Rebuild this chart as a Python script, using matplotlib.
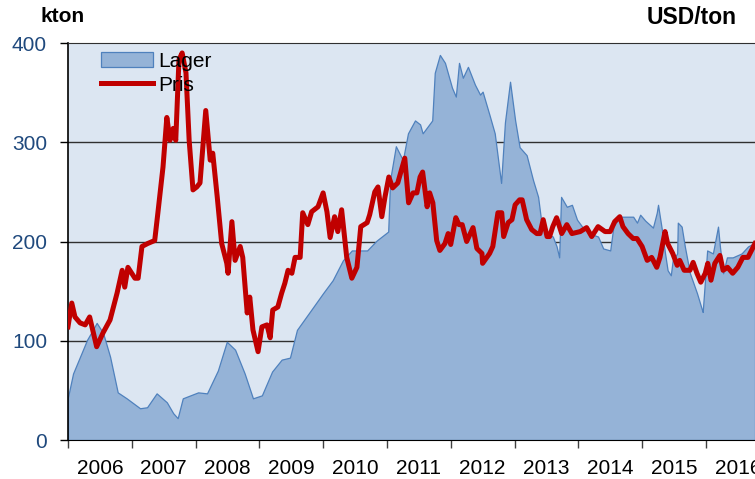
import matplotlib
matplotlib.use("Agg")
import matplotlib.pyplot as plt
import numpy as np

plt.rcParams['font.family'] = ['Liberation Sans', 'DejaVu Sans']

# Lager (kton)
lager_year = [2006.00, 2006.08, 2006.19, 2006.30, 2006.39, 2006.45, 2006.55, 2006.66, 2006.78, 2006.92,
              2007.13, 2007.24, 2007.39, 2007.55, 2007.65, 2007.72, 2007.80, 2008.04, 2008.18, 2008.35,
              2008.49, 2008.62, 2008.77, 2008.90, 2009.04, 2009.20, 2009.35, 2009.48, 2009.59, 2009.79,
              2010.00, 2010.15, 2010.31, 2010.45, 2010.69, 2010.84, 2011.02, 2011.05, 2011.14, 2011.25,
              2011.33, 2011.44, 2011.52, 2011.56, 2011.71, 2011.75, 2011.83, 2011.91, 2012.02, 2012.08,
              2012.13, 2012.19, 2012.27, 2012.38, 2012.46, 2012.50, 2012.61, 2012.69, 2012.79, 2012.85,
              2012.93, 2013.01, 2013.08, 2013.19, 2013.29, 2013.37, 2013.43, 2013.52, 2013.60, 2013.66,
              2013.70, 2013.73, 2013.82, 2013.90, 2013.98, 2014.06, 2014.18, 2014.31, 2014.39, 2014.50,
              2014.55, 2014.65, 2014.86, 2014.92, 2014.97, 2015.05, 2015.17, 2015.23, 2015.25, 2015.31,
              2015.36, 2015.40, 2015.45, 2015.48, 2015.55, 2015.56, 2015.62, 2015.67, 2015.75, 2015.86,
              2015.94, 2015.95, 2016.02, 2016.11, 2016.19, 2016.22, 2016.27, 2016.33, 2016.42, 2016.56,
              2016.66, 2016.77]
lager = [43, 67, 84, 101, 111, 118, 108, 84, 48, 42,
         32, 33, 47, 38, 27, 22, 42, 48, 47, 70,
         99, 91, 67, 42, 45, 69, 81, 83, 111, 129,
         148, 161, 181, 191, 191, 201, 210, 262, 296, 282,
         309, 322, 318, 309, 322, 370, 388, 380, 355, 346,
         380, 365, 376, 358, 348, 351, 327, 309, 259, 320,
         361, 322, 295, 287, 262, 245, 215, 208, 205, 195,
         184, 245, 235, 237, 222, 215, 208, 205, 193, 191,
         215, 225, 225, 219, 227, 221, 214, 229, 237, 212,
         188, 171, 166, 181, 188, 219, 215, 195, 168, 148,
         131, 129, 191, 188, 215, 195, 168, 184, 184, 188,
         195, 199]

pris_year = [2006.00, 2006.06, 2006.11, 2006.19, 2006.27, 2006.34, 2006.45, 2006.55, 2006.66, 2006.77,
             2006.85, 2006.89, 2006.94, 2007.05, 2007.10, 2007.16, 2007.25, 2007.36, 2007.41, 2007.49,
             2007.55, 2007.60, 2007.65, 2007.69, 2007.74, 2007.79, 2007.85, 2007.90, 2007.96, 2008.02,
             2008.07, 2008.16, 2008.23, 2008.27, 2008.34, 2008.41, 2008.49, 2008.51, 2008.57, 2008.62,
             2008.70, 2008.74, 2008.81, 2008.85, 2008.90, 2008.98, 2009.04, 2009.12, 2009.17, 2009.21,
             2009.29, 2009.35, 2009.40, 2009.45, 2009.51, 2009.56, 2009.64, 2009.68, 2009.76, 2009.82,
             2009.92, 2010.00, 2010.06, 2010.11, 2010.18, 2010.23, 2010.29, 2010.37, 2010.45, 2010.53,
             2010.59, 2010.69, 2010.73, 2010.81, 2010.86, 2010.92, 2010.97, 2011.03, 2011.09, 2011.17,
             2011.28, 2011.34, 2011.41, 2011.47, 2011.52, 2011.56, 2011.63, 2011.67, 2011.72, 2011.78,
             2011.83, 2011.91, 2011.96, 2012.00, 2012.08, 2012.13, 2012.18, 2012.25, 2012.35, 2012.41,
             2012.49, 2012.50, 2012.61, 2012.66, 2012.74, 2012.80, 2012.83, 2012.90, 2012.96, 2013.01,
             2013.08, 2013.12, 2013.19, 2013.27, 2013.35, 2013.40, 2013.45, 2013.51, 2013.55, 2013.60,
             2013.66, 2013.74, 2013.82, 2013.90, 2014.03, 2014.13, 2014.21, 2014.31, 2014.42, 2014.50,
             2014.57, 2014.65, 2014.70, 2014.78, 2014.86, 2014.92, 2014.97, 2015.00, 2015.08, 2015.15,
             2015.23, 2015.28, 2015.36, 2015.40, 2015.48, 2015.55, 2015.59, 2015.66, 2015.75, 2015.80,
             2015.86, 2015.92, 2015.99, 2016.03, 2016.08, 2016.14, 2016.22, 2016.27, 2016.34, 2016.42,
             2016.50, 2016.58, 2016.66, 2016.77]
pris = [114, 138, 124, 118, 116, 124, 94, 108, 121, 148,
        171, 154, 174, 163, 163, 195, 198, 201, 229, 275,
        325, 302, 314, 302, 383, 390, 370, 302, 252, 255,
        259, 332, 282, 289, 245, 198, 178, 168, 220, 181,
        195, 184, 128, 144, 111, 89, 114, 116, 103, 131,
        134, 148, 158, 171, 168, 184, 184, 229, 217, 230,
        235, 249, 230, 204, 225, 210, 232, 184, 163, 174,
        215, 219, 227, 250, 255, 225, 245, 265, 254, 259,
        284, 239, 249, 249, 265, 270, 235, 249, 239, 201,
        191, 198, 208, 197, 224, 217, 217, 200, 214, 193,
        188, 178, 188, 195, 229, 229, 205, 219, 222, 237,
        242, 242, 222, 212, 208, 208, 222, 205, 205, 215,
        224, 208, 217, 208, 210, 214, 205, 215, 210, 210,
        220, 225, 215, 208, 203, 203, 198, 195, 181, 184,
        174, 184, 210, 198, 188, 176, 181, 171, 171, 179,
        168, 159, 168, 178, 161, 178, 186, 171, 174, 168,
        174, 184, 184, 198]

years = list(range(2006, 2017))

fig = plt.figure(figsize=(7.55, 4.79), dpi=100)
ax = fig.add_axes([0.090, 0.0814, 0.910, 0.8288])
ax.set_facecolor('#dce6f2')

ax.fill_between(lager_year, lager, 0, facecolor='#95b3d7', edgecolor='#4f81bd',
                linewidth=0.9, label='Lager', zorder=2)
ax.plot(pris_year, pris, color='#c00000', linewidth=3.6, label='Pris', zorder=3,
        solid_joinstyle='round')

ax.set_xlim(2006.0, 2016.77)
ax.set_ylim(0, 400)

for v in [100, 200, 300]:
    ax.axhline(v, color='#303030', linewidth=1.0, zorder=1)

ax.set_yticks([0, 100, 200, 300, 400])
ax.tick_params(axis='y', labelsize=15, labelcolor='#1f497d', length=6, width=1,
               direction='out', pad=9)

ax.set_xticks(years)
ax.set_xticklabels([])
ax.set_xticks([y + 0.5 for y in years], minor=True)
ax.set_xticklabels([str(y) for y in years], minor=True, fontsize=15)
ax.tick_params(axis='x', which='major', length=6, width=1, direction='out', color='#404040')
ax.tick_params(axis='x', which='minor', length=0, pad=14)

ax.spines['right'].set_visible(False)
ax.spines['top'].set_color('#303030')
ax.spines['left'].set_linewidth(1.2)

fig.text(0.053, 0.965, 'kton', fontsize=15, fontweight='bold', va='center')
fig.text(0.975, 0.963, 'USD/ton', fontsize=16.5, fontweight='bold', va='center', ha='right')

ax.legend(loc='upper left', bbox_to_anchor=(0.03, 1.01), frameon=False, fontsize=15,
          handlelength=2.5, handleheight=0.7, labelspacing=0.25, handletextpad=0.25,
          borderaxespad=0.2)

fig.savefig('out.png', dpi=100)
